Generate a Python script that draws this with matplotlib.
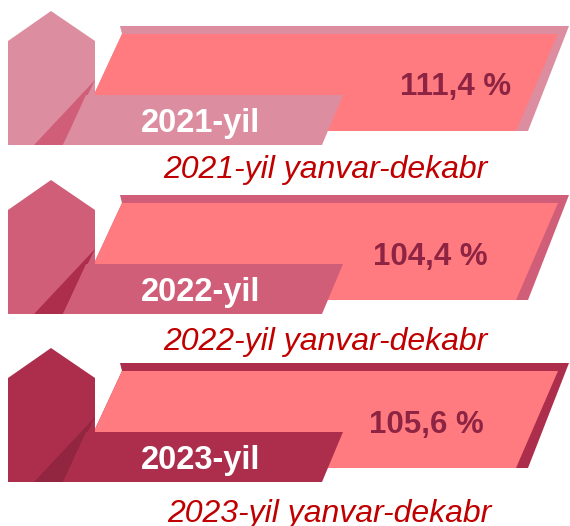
import matplotlib
matplotlib.use("Agg")
from matplotlib import pyplot as plt
from matplotlib.patches import Polygon

years = ['2021', '2022', '2023']
values = [111.4, 104.4, 105.6]
pent_colors = ['#DC8EA0', '#D05E78', '#AD2E4C']
tri_colors = ['#D05E78', '#AD2E4C', '#922641']
main_color = '#FF7B7F'
pct_color = '#8E2443'
sub_color = '#C00000'

# block shape template (pixel units, first block)
pentagon = [(8, 41), (51, 11), (95, 41), (95, 145), (8, 145)]
band = [(120, 26), (569, 26), (528, 131), (77, 131), (122, 34)]
main = [(122, 34), (558, 34), (516, 131), (77, 131)]
label = [(86, 95), (343, 95), (322, 145), (63, 145)]
tri = [(95, 80), (34, 145), (63, 145)]

offsets = [0, 169, 337]
pct_x = [456, 430, 426]
pct_base = [95, 265, 433]
sub_x = [325, 325, 329]
sub_base = [178, 350, 522]

fig = plt.figure(figsize=(5.70, 5.26), dpi=100)
ax = fig.add_axes([0, 0, 1, 1])
ax.set_xlim(0, 570)
ax.set_ylim(526, 0)
ax.axis('off')

def shift(pts, dy):
    return [(x, y + dy) for x, y in pts]

for i in range(len(years)):
    dy = offsets[i]
    c = pent_colors[i]
    ax.add_patch(Polygon(shift(band, dy), closed=True, fc=c, ec='none'))
    ax.add_patch(Polygon(shift(main, dy), closed=True, fc=main_color, ec='none'))
    ax.add_patch(Polygon(shift(pentagon, dy), closed=True, fc=c, ec='none'))
    ax.add_patch(Polygon(shift(tri, dy), closed=True, fc=tri_colors[i], ec='none'))
    ax.add_patch(Polygon(shift(label, dy), closed=True, fc=c, ec='none'))

    pct = ('%.1f' % values[i]).replace('.', ',') + ' %'
    ax.text(pct_x[i], pct_base[i], pct, ha='center', va='baseline', fontsize=22.5,
            fontweight='bold', color=pct_color, family='Liberation Sans')
    ax.text(201, 132 + dy, years[i] + '-yil', ha='center', va='baseline', fontsize=23.5,
            fontweight='bold', color='white', family='Liberation Sans')
    ax.text(sub_x[i], sub_base[i], years[i] + '-yil yanvar-dekabr', ha='center',
            va='baseline', fontsize=23, fontstyle='italic', color=sub_color,
            family='Liberation Sans')

fig.savefig('out.png', dpi=100)
